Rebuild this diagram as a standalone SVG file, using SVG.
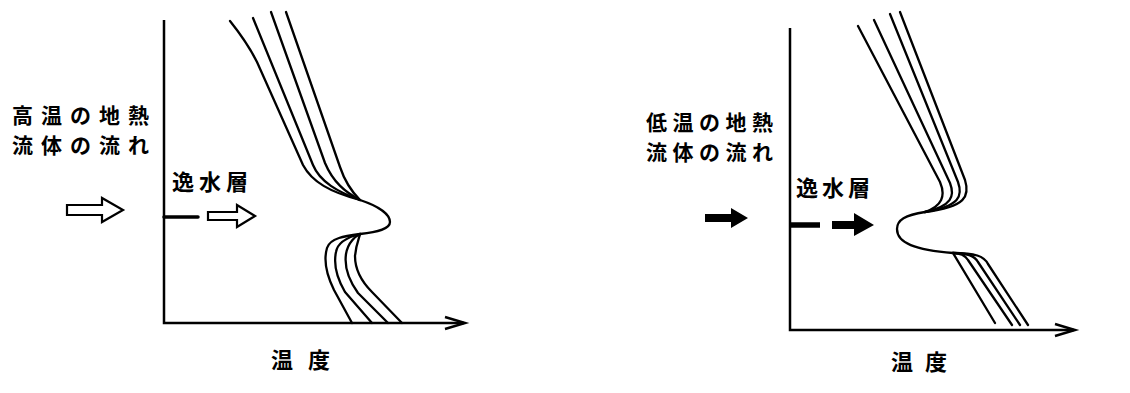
<svg xmlns="http://www.w3.org/2000/svg" width="1130" height="393" viewBox="0 0 1130 393">
<style>
.t{font-family:"Noto Sans CJK JP","Noto Sans CJK SC",sans-serif;font-size:21px;font-weight:bold;fill:#000}
.s{font-size:22px}
.ax{stroke:#000;stroke-width:2.5;fill:none}
.cv{stroke:#000;stroke-width:2.3;fill:none;stroke-linejoin:round;stroke-linecap:round}
.ha{fill:#fff;stroke:#000;stroke-width:2.2;stroke-linejoin:miter}
.fa{fill:#000;stroke:none}
</style>
<rect width="1130" height="393" fill="#fff"/>
<g id="left-panel">
  <g id="left-axes">
    <path class="ax" d="M164,20 L164,323 L464,323"/>
    <path class="ax" d="M445,317 L465,323 L445,329"/>
  </g>
  <g id="left-labels">
    <text class="t" x="12" y="123" letter-spacing="8">高温の地熱</text>
    <text class="t" x="12" y="153" letter-spacing="8">流体の流れ</text>
    <text class="t s" x="172" y="190" letter-spacing="5">逸水層</text>
    <text class="t s" x="271" y="368" letter-spacing="15">温度</text>
  </g>
  <g id="left-arrows">
    <path class="ha" d="M67,205 L102,205 L102,198 L123,210 L102,222 L102,215 L67,215 Z"/>
    <path d="M164,217 L198,217" stroke="#000" stroke-width="3.5" stroke-linecap="round"/>
    <path class="ha" d="M208,212 L237,212 L237,205 L255,216 L237,227 L237,220 L208,220 Z"/>
  </g>
  <g id="left-curves">
    <path class="cv" d="M230,21 C242,36 250,48 257,62 L303,165 C312,182 330,192 360,200 C378,206 390,214 390,222 C390,229 378,232 360,234 C345,236 330,238 327,248 C323,262 327,276 334,290 L352,323"/>
    <path class="cv" d="M253,18 L313,165 C320,182 338,192 360,200"/>
    <path class="cv" d="M271,12 L325,163 C333,182 345,192 360,200"/>
    <path class="cv" d="M286,12 L340,167 C345,182 352,192 360,200"/>
    <path class="cv" d="M360,234 C352,236 338,240 336,252 C333,266 338,280 345,292 L372,323"/>
    <path class="cv" d="M360,234 C356,236 348,242 346,254 C344,268 350,282 358,293 L388,323"/>
    <path class="cv" d="M360,234 C360,236 356,244 355,256 C355,270 362,282 372,292 L402,323"/>
  </g>
</g>
<g id="right-panel">
  <g id="right-axes">
    <path class="ax" d="M790,28 L790,330 L1074,330"/>
    <path class="ax" d="M1055,324 L1075,330 L1055,336"/>
  </g>
  <g id="right-labels">
    <text class="t" x="646" y="130" letter-spacing="5.5">低温の地熱</text>
    <text class="t" x="646" y="160" letter-spacing="5.5">流体の流れ</text>
    <text class="t s" x="796" y="196" letter-spacing="4">逸水層</text>
    <text class="t s" x="891" y="370" letter-spacing="12">温度</text>
  </g>
  <g id="right-arrows">
    <path class="fa" d="M705,214 L731,214 L731,208 L748,218 L731,228 L731,222 L705,222 Z"/>
    <path d="M790,225 L820,225" stroke="#000" stroke-width="5.5"/>
    <path class="fa" d="M832,221 L854,221 L854,213 L874,225 L854,236 L854,229 L832,229 Z"/>
  </g>
  <g id="right-curves">
    <path class="cv" d="M858,26 L940,182 C946,196 942,206 925,212 C905,215 897,220 897,229 C897,243 915,250 953,253 L995,323"/>
    <path class="cv" d="M874,20 L950,183 C955,196 952,206 925,212"/>
    <path class="cv" d="M890,14 L958,182 C963,196 960,206 925,212"/>
    <path class="cv" d="M900,12 L965,180 C970,196 966,207 925,212"/>
    <path class="cv" d="M953,253 C960,253 965,255 968,260 L1012,325"/>
    <path class="cv" d="M953,253 C968,253 975,256 978,262 L1020,325"/>
    <path class="cv" d="M953,253 C975,253 984,256 988,264 L1028,325"/>
  </g>
</g>
</svg>
